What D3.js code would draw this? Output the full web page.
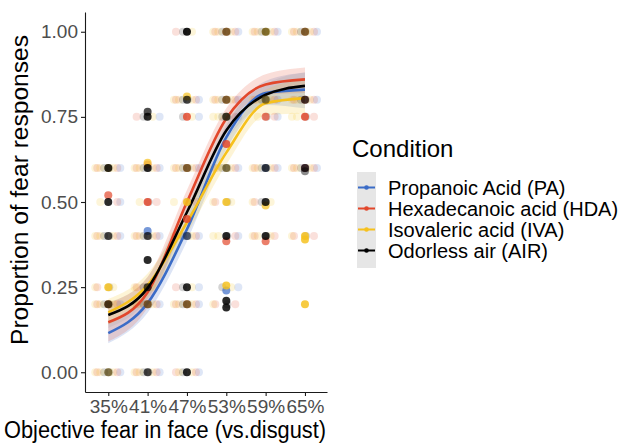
<!DOCTYPE html>
<html>
<head>
<meta charset="utf-8">
<script src="https://cdn.jsdelivr.net/npm/d3@7"></script>
<style>
  body { margin: 0; background: #fff; }
  svg { display: block; font-family: "Liberation Sans", Arial, sans-serif; }
</style>
</head>
<body>
<div id="chart"></div>
<script>
// datos del grafico
const levels = [0.35, 0.41, 0.47, 0.53, 0.59, 0.65];
const tickLabels = ["35%", "41%", "47%", "53%", "59%", "65%"];
const yTicks = [0, 0.25, 0.5, 0.75, 1];
const conditions = ["Propanoic Acid (PA)", "Hexadecanoic acid (HDA)", "Isovaleric acid (IVA)", "Odorless air (AIR)"];
const colours = ["#3b6cc7", "#e2472b", "#f6c11d", "#000000"];

// curvas ajustadas (una por condicion) en cada nivel
const paFit  = [0.115, 0.203, 0.420, 0.690, 0.820, 0.830];
const hdaFit = [0.147, 0.235, 0.500, 0.745, 0.845, 0.860];
const ivaFit = [0.176, 0.256, 0.440, 0.645, 0.790, 0.805];
const airFit = [0.168, 0.247, 0.470, 0.710, 0.815, 0.841];

// intervalos de confianza
const paLo  = [0.085, 0.175, 0.385, 0.655, 0.785, 0.775];
const paHi  = [0.150, 0.235, 0.455, 0.725, 0.855, 0.880];
const hdaLo = [0.090, 0.190, 0.465, 0.715, 0.815, 0.820];
const hdaHi = [0.205, 0.280, 0.535, 0.775, 0.875, 0.895];
const ivaLo = [0.140, 0.220, 0.405, 0.610, 0.755, 0.760];
const ivaHi = [0.215, 0.290, 0.475, 0.680, 0.830, 0.860];
const airLo = [0.130, 0.215, 0.440, 0.680, 0.785, 0.800];
const airHi = [0.205, 0.280, 0.500, 0.740, 0.845, 0.880];

// puntos: [indice de nivel, proporcion, n observaciones]
const paPts = [[4, 0.60, 1], [5, 0.60, 1], [1, 0.415, 2], [2, 0.40, 1], [3, 0.24, 2], [3, 0.75, 1]];
const hdaPts = [[3, 1.00, 1], [5, 1.00, 1], [3, 0.80, 1], [5, 0.80, 1],
  [2, 0.75, 3], [4, 0.75, 2], [5, 0.75, 3], [3, 0.67, 3],
  [1, 0.61, 1], [2, 0.60, 1], [5, 0.60, 1], [0, 0.52, 2], [1, 0.50, 3], [2, 0.45, 3],
  [3, 0.385, 2], [4, 0.385, 2], [0, 0.20, 1], [1, 0.20, 1], [2, 0.20, 1]];
const ivaPts = [[3, 1.00, 1], [4, 1.00, 2], [5, 1.00, 1],
  [2, 0.81, 2], [3, 0.80, 1], [4, 0.80, 1], [3, 0.75, 1],
  [0, 0.60, 1], [1, 0.615, 2], [2, 0.60, 1], [3, 0.60, 1],
  [2, 0.50, 3], [3, 0.50, 3], [4, 0.49, 2], [5, 0.40, 3], [5, 0.39, 3],
  [0, 0.25, 3], [3, 0.255, 3], [0, 0.20, 1], [1, 0.20, 1], [2, 0.20, 1], [5, 0.20, 3], [0, 0.00, 1]];
const airPts = [[2, 1.00, 4], [3, 1.00, 1], [4, 1.00, 1], [5, 1.00, 1],
  [2, 0.80, 2], [3, 0.80, 1], [4, 0.80, 1], [5, 0.80, 2],
  [1, 0.75, 3], [1, 0.765, 2], [3, 0.75, 2],
  [0, 0.60, 3], [1, 0.60, 3], [2, 0.60, 1], [3, 0.60, 1], [4, 0.60, 2], [5, 0.60, 2], [5, 0.59, 1],
  [0, 0.50, 3], [4, 0.50, 3],
  [0, 0.40, 2], [1, 0.40, 2], [2, 0.40, 1], [3, 0.40, 3], [4, 0.40, 3],
  [1, 0.33, 3], [1, 0.25, 2], [2, 0.25, 3],
  [0, 0.20, 2], [1, 0.20, 1], [2, 0.20, 1], [3, 0.21, 3], [3, 0.19, 3],
  [0, 0.00, 1], [1, 0.00, 2], [2, 0.00, 3]];

// nubes de puntos tenues: [indice de nivel, proporcion, cantidad]
const cloudCells = [[2, 1.00, 3], [3, 1.00, 8], [4, 1.00, 8], [5, 1.00, 8],
  [2, 0.80, 8], [3, 0.80, 8], [4, 0.80, 8], [5, 0.80, 8],
  [1, 0.75, 4], [2, 0.75, 3], [3, 0.75, 6], [4, 0.75, 4], [5, 0.75, 4],
  [0, 0.60, 8], [1, 0.60, 8], [2, 0.60, 8], [3, 0.60, 8], [4, 0.60, 8], [5, 0.60, 8],
  [0, 0.50, 3], [1, 0.50, 3], [2, 0.50, 3], [3, 0.50, 4], [4, 0.50, 4],
  [0, 0.40, 8], [1, 0.40, 8], [2, 0.40, 8], [3, 0.40, 5], [4, 0.40, 6], [5, 0.40, 4],
  [0, 0.25, 4], [1, 0.25, 4], [2, 0.25, 4], [3, 0.25, 3],
  [0, 0.20, 8], [1, 0.20, 8], [2, 0.20, 8], [3, 0.20, 4],
  [0, 0.00, 8], [1, 0.00, 8], [2, 0.00, 6]];

const fits = [paFit, hdaFit, ivaFit, airFit];
const los = [paLo, hdaLo, ivaLo, airLo];
const his = [paHi, hdaHi, ivaHi, airHi];
const pts = [paPts, hdaPts, ivaPts, airPts];

const width = 622, height = 443;
const margin = { left: 85, top: 12, right: 295, bottom: 51 };

const svg = d3.select('#chart').append('svg')
  .attr('width', width)
  .attr('height', height);

const x = d3.scaleLinear().domain([0.3145, 0.6836]).range([margin.left, width - margin.right]);
const y = d3.scaleLinear().domain([-0.058, 1.058]).range([height - margin.bottom, margin.top]);

// bandas de confianza
const area = d3.area().curve(d3.curveMonotoneX)
  .x(d => x(d.x)).y0(d => y(d.lo)).y1(d => y(d.hi));
const line = d3.line().curve(d3.curveMonotoneX)
  .x(d => x(d.x)).y(d => y(d.v));

fits.forEach((f, k) => {
  svg.append('path')
    .datum(levels.map((l, i) => ({ x: l, lo: los[k][i], hi: his[k][i] })))
    .attr('d', area)
    .attr('fill', k === 3 ? '#999' : colours[k])
    .attr('fill-opacity', 0.18);
});

// puntos tenues (jitter fijo)
const jitter = [-11, 5, -4, 12, -8, 9, 1, -13];
const mezcla = [1, 2, 3, 0, 2, 1, 3, 2];
const cloud = svg.append('g');
cloudCells.forEach(([li, v, n], c) => {
  d3.range(n).forEach(j => {
    cloud.append('circle')
      .attr('cx', x(levels[li]) + jitter[(j + c) % jitter.length])
      .attr('cy', y(v))
      .attr('r', 4)
      .attr('fill', colours[mezcla[(j + c) % mezcla.length]])
      .attr('fill-opacity', 0.17);
  });
});

// curvas
fits.forEach((f, k) => {
  svg.append('path')
    .datum(levels.map((l, i) => ({ x: l, v: f[i] })))
    .attr('d', line)
    .attr('fill', 'none')
    .attr('stroke', colours[k])
    .attr('stroke-width', 2.6);
});

// puntos solidos
pts.forEach((p, k) => {
  svg.append('g').selectAll('circle')
    .data(p)
    .join('circle')
    .attr('cx', d => x(levels[d[0]]))
    .attr('cy', d => y(d[1]))
    .attr('r', 4)
    .attr('fill', colours[k])
    .attr('fill-opacity', d => 1 - Math.pow(0.55, d[2]));
});

// ejes
const ejeY = svg.append('g')
  .attr('transform', `translate(${margin.left},0)`)
  .call(d3.axisLeft(y).tickValues(yTicks).tickFormat(d3.format('.2f')).tickSize(4).tickSizeOuter(0));
const ejeX = svg.append('g')
  .attr('transform', `translate(0,${height - margin.bottom})`)
  .call(d3.axisBottom(x).tickValues(levels).tickFormat((d, i) => tickLabels[i]).tickSize(4).tickSizeOuter(0));

[ejeX, ejeY].forEach(g => {
  g.select('.domain').attr('stroke', '#1a1a1a').attr('stroke-width', 1.1);
  g.selectAll('.tick line').attr('stroke', '#1a1a1a').attr('stroke-width', 1.1);
  g.selectAll('.tick text').attr('fill', '#4d4d4d').style('font-size', '19px')
    .style('font-family', '"Liberation Sans", Arial, sans-serif');
});
ejeY.selectAll('.tick text').attr('x', -7);
ejeX.selectAll('.tick text').attr('y', 4).attr('dy', '0.9em');

// titulos de ejes
svg.append('text')
  .attr('x', 4).attr('y', 438)
  .attr('textLength', 322).attr('lengthAdjust', 'spacingAndGlyphs')
  .style('font-size', '23px')
  .text('Objective fear in face (vs.disgust)');
svg.append('text')
  .attr('transform', 'translate(28,190) rotate(-90)')
  .attr('text-anchor', 'middle')
  .attr('textLength', 310).attr('lengthAdjust', 'spacingAndGlyphs')
  .style('font-size', '23px')
  .text('Proportion of fear responses');

// leyenda
const leyenda = svg.append('g');
leyenda.append('text').attr('x', 352).attr('y', 157).style('font-size', '24px').text('Condition');
leyenda.append('rect').attr('x', 357).attr('y', 172).attr('width', 19).attr('height', 96).attr('fill', '#e6e6e6');
conditions.forEach((c, i) => {
  const cy = 187.5 + i * 21;
  leyenda.append('line').attr('x1', 358).attr('x2', 375).attr('y1', cy).attr('y2', cy)
    .attr('stroke', colours[i]).attr('stroke-width', 2);
  leyenda.append('circle').attr('cx', 366.5).attr('cy', cy).attr('r', 2.3).attr('fill', colours[i]);
  leyenda.append('text').attr('x', 388).attr('y', cy + 7.5).style('font-size', '20px').text(c);
});
</script>
</body>
</html>
